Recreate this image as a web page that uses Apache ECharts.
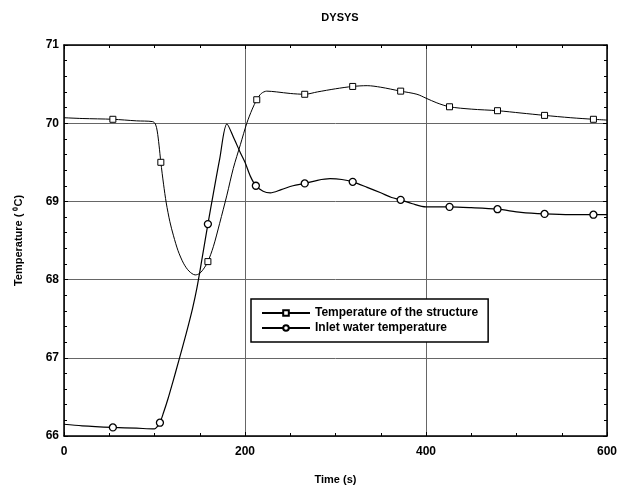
<!DOCTYPE html>
<html>
<head>
<meta charset="utf-8">
<script src="https://cdn.jsdelivr.net/npm/echarts@6/dist/echarts.min.js"></script>
<style>html,body{margin:0;padding:0;background:#fff;}#c{width:629px;height:495px;}</style>
</head>
<body>
<div id="c"></div>
<script>
// Temperature of the structure
const structTime = [0,20,54,80,98,101,103,105,107,110,113,117,121,126,132,138,145,150,155,159,165,172,180,187,195,202,208,213,218,224,235,250,266,280,300,319,335,350,372,390,400,412,426,450,479,505,531,560,585,600];
const structTemp = [70.07,70.06,70.05,70.03,70.02,69.99,69.9,69.72,69.5,69.22,68.98,68.74,68.56,68.37,68.21,68.11,68.06,68.08,68.15,68.23,68.42,68.72,69.08,69.42,69.73,70.0,70.18,70.3,70.38,70.41,70.40,70.38,70.37,70.40,70.44,70.47,70.48,70.46,70.41,70.37,70.32,70.26,70.21,70.18,70.16,70.13,70.10,70.07,70.05,70.04];
const structMarkers = [54,107,159,213,266,319,372,426,479,531,585];
// Inlet water temperature
const inletTime = [0,20,54,80,100,103,106,110,115,120,127,135,142,147,153,159,165,172,180,188,195,200,206,212,220,228,240,253,266,280,294,307,319,335,350,362,372,385,400,426,450,479,505,531,560,585,600];
const inletTemp = [66.15,66.13,66.11,66.10,66.09,66.12,66.17,66.3,66.48,66.68,66.97,67.31,67.63,67.9,68.3,68.71,69.1,69.54,69.99,69.8,69.62,69.5,69.32,69.2,69.13,69.11,69.15,69.2,69.23,69.27,69.29,69.28,69.25,69.18,69.11,69.05,69.02,68.97,68.93,68.93,68.92,68.9,68.86,68.84,68.83,68.83,68.83];
const inletMarkers = [54,106,159,212,266,319,372,426,479,531,585];
const xTicks = [0,200,400,600];
const yTicks = [66,67,68,69,70,71];

function build(times, temps, markers) {
  return times.map((t, i) => {
    const item = {value: [t, temps[i]]};
    if (markers.indexOf(t) < 0) item.symbol = 'none';
    return item;
  });
}

const font = 'Liberation Sans, Arial, sans-serif';
const chart = echarts.init(document.getElementById('c'), null, {renderer: 'canvas'});
const axisLine = {show: true, onZero: false, lineStyle: {color: '#000', width: 1.5}};
const axisTick = {show: true, inside: true, length: 4, lineStyle: {color: '#000'}};
chart.setOption({
  backgroundColor: '#fff',
  animation: false,
  title: {
    text: 'DYSYS', left: 335, top: 7, textAlign: 'center',
    textStyle: {fontFamily: font, fontSize: 11, fontWeight: 'bold', color: '#000'}
  },
  grid: {left: 64, right: 22, top: 45, bottom: 59, containLabel: false},
  legend: {
    orient: 'vertical', left: 251, top: 299,
    padding: [8, 10, 8, 10], itemGap: 3,
    itemWidth: 48, itemHeight: 7,
    borderColor: '#000', borderWidth: 1.5, backgroundColor: '#fff',
    textStyle: {fontFamily: font, fontSize: 12, fontWeight: 'bold', color: '#000'},
    data: ['Temperature of the structure', 'Inlet water temperature']
  },
  xAxis: [
    {
      type: 'value', min: xTicks[0], max: xTicks[xTicks.length - 1], interval: 200,
      axisLine: axisLine, axisTick: axisTick,
      minorTick: {show: true, splitNumber: 4, length: 3, lineStyle: {color: '#000'}},
      name: 'Time (s)', nameLocation: 'middle', nameGap: 38,
      nameTextStyle: {fontFamily: font, fontSize: 11, fontWeight: 'bold', color: '#000'},
      axisLabel: {fontFamily: font, fontSize: 12, fontWeight: 'bold', color: '#000', margin: 10},
      splitLine: {show: true, lineStyle: {color: '#666', width: 1}}
    },
    {
      type: 'value', position: 'top', min: 0, max: 600, interval: 200,
      axisLine: axisLine, axisTick: axisTick,
      minorTick: {show: true, splitNumber: 4, length: 3, lineStyle: {color: '#000'}},
      axisLabel: {show: false}, splitLine: {show: false}
    }
  ],
  yAxis: [
    {
      type: 'value', min: yTicks[0], max: yTicks[yTicks.length - 1], interval: 1,
      axisLine: axisLine, axisTick: axisTick,
      minorTick: {show: true, splitNumber: 5, length: 3, lineStyle: {color: '#000'}},
      name: 'Temperature ( \u2070C)', nameLocation: 'middle', nameGap: 40,
      nameTextStyle: {fontFamily: font, fontSize: 11, fontWeight: 'bold', color: '#000'},
      axisLabel: {fontFamily: font, fontSize: 12, fontWeight: 'bold', color: '#000', margin: 5},
      splitLine: {show: true, lineStyle: {color: '#666', width: 1}}
    },
    {
      type: 'value', position: 'right', min: 66, max: 71, interval: 1,
      axisLine: axisLine, axisTick: axisTick,
      minorTick: {show: true, splitNumber: 5, length: 3, lineStyle: {color: '#000'}},
      axisLabel: {show: false}, splitLine: {show: false}
    }
  ],
  series: [
    {
      name: 'Temperature of the structure', type: 'line', xAxisIndex: 0, yAxisIndex: 0,
      data: build(structTime, structTemp, structMarkers),
      symbol: 'rect', smooth: 0.3, showAllSymbol: true, symbolSize: 6,
      lineStyle: {color: '#000', width: 1},
      itemStyle: {color: '#fff', borderColor: '#000', borderWidth: 1}
    },
    {
      name: 'Inlet water temperature', type: 'line', xAxisIndex: 0, yAxisIndex: 0,
      data: build(inletTime, inletTemp, inletMarkers),
      symbol: 'circle', smooth: 0.3, showAllSymbol: true, symbolSize: 7,
      lineStyle: {color: '#000', width: 1.2},
      itemStyle: {color: '#fff', borderColor: '#000', borderWidth: 1.3}
    }
  ]
});
</script>
</body>
</html>
